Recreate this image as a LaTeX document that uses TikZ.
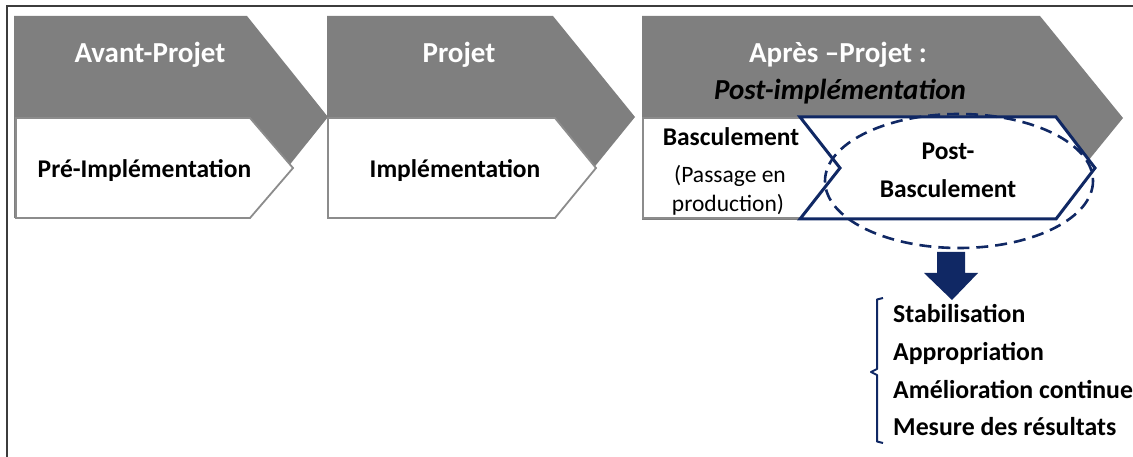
\documentclass[tikz,border=0pt]{standalone}
\usepackage{fontspec}
\setmainfont{Carlito}
\definecolor{chevgray}{RGB}{127,127,127}
\definecolor{boxline}{RGB}{140,140,140}
\definecolor{navy}{RGB}{16,40,100}
\definecolor{frameline}{RGB}{60,60,60}
\tikzset{
  chev/.style={fill=chevgray, draw=none},
  whitebox/.style={fill=white, draw=boxline, line width=1.8pt, line join=miter},
  navybox/.style={fill=white, draw=navy, line width=3pt, line join=miter},
  dashell/.style={draw=navy, line width=2.6pt, dash pattern=on 12pt off 7pt},
  title/.style={text=white, font=\fontsize{29}{34}\selectfont\bfseries, inner sep=0pt, anchor=base},
  sub/.style={text=black, font=\fontsize{25.5}{30}\selectfont\bfseries, inner sep=0pt, anchor=base},
  subreg/.style={text=black, font=\fontsize{23.5}{28}\selectfont, inner sep=0pt, anchor=base},
  item/.style={text=black, font=\fontsize{25.8}{30}\selectfont\bfseries, inner sep=0pt, anchor=base west},
}
\begin{document}
\begin{tikzpicture}[x=1pt,y=-1pt]
\useasboundingbox (0,0) rectangle (1133,457);
% frame (top and left)
\draw[frameline, line width=2pt] (6.5,457) -- (6.5,6.5) -- (1133,6.5);
% chevron 1
\fill[chev] (14,16) -- (247,16) -- (328,117) -- (247,218) -- (14,218) -- cycle;
\draw[whitebox] (16,118) -- (250,118) -- (293,168) -- (250,218) -- (16,218) -- cycle;
% chevron 2
\fill[chev] (327,16) -- (553,16) -- (635,117) -- (553,218) -- (327,218) -- cycle;
\draw[whitebox] (328,118) -- (555,118) -- (596,168) -- (555,218) -- (328,218) -- cycle;
% chevron 3
\fill[chev] (642,16) -- (1040,16) -- (1123,118) -- (1040,220) -- (642,220) -- cycle;
\draw[whitebox] (643,118) -- (850,118) -- (850,218) -- (643,218) -- cycle;
\draw[navybox] (800,117) -- (1056,117) -- (1095,168) -- (1056,219) -- (800,219) -- (840,168) -- cycle;
% dashed ellipse
\draw[dashell] (959,181) ellipse [x radius=134, y radius=67];
% texts
\node[title] (t1) at (150,63) {Avant-Projet};
\node[title] (t2) at (459,63) {Projet};
\node[title] (t3) at (838,63) {Après –Projet :};
\node[title, text=black, font=\fontsize{29}{34}\selectfont\bfseries\itshape] (t3b) at (840,100) {Post-implémentation};
\node[sub] (s1) at (144.5,178) {Pré-Implémentation};
\node[sub] (s2) at (455,178) {Implémentation};
\node[sub] (s3) at (731,146) {Basculement};
\node[subreg] (s3b) at (730,183) {(Passage en};
\node[subreg] (s3c) at (728,212) {production)};
\node[sub] (p1) at (948,160) {Post-};
\node[sub] (p2) at (948,198) {Basculement};
% block arrow
\fill[navy] (937,252) -- (965,252) -- (965,273) -- (978,273) -- (952,300) -- (924,273) -- (937,273) -- cycle;
% bracket
\draw[navy, line width=2pt, line join=round] (883,298) -- (877,299.5) -- (877,369) -- (871,372) -- (877,375) -- (877,441.5) -- (883,443);
% list
\node[item] (l1) at (893,323) {Stabilisation};
\node[item] (l2) at (893,360) {Appropriation};
\node[item] (l3) at (893,398) {Amélioration continue};
\node[item] (l4) at (893,435) {Mesure des résultats};
\end{tikzpicture}
\end{document}
